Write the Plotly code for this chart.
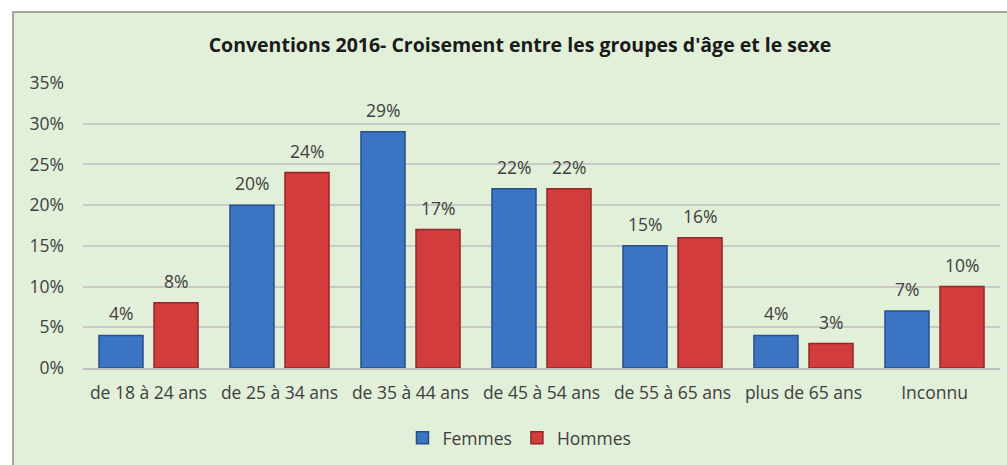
import plotly.graph_objects as go

categories = ["de 18 à 24 ans", "de 25 à 34 ans", "de 35 à 44 ans", "de 45 à 54 ans",
              "de 55 à 65 ans", "plus de 65 ans", "Inconnu"]
femmes = [4, 20, 29, 22, 15, 4, 7]
hommes = [8, 24, 17, 22, 16, 3, 10]
tick_vals = [0, 5, 10, 15, 20, 25, 30, 35]
tick_text = [f"{v}%" for v in tick_vals]

FONT = "'Open Sans', Lato, sans-serif"
TXT = "#404040"

fig = go.Figure()
fig.add_trace(go.Bar(
    name="Femmes", x=categories, y=femmes,
    marker=dict(color="#3B74C2", line=dict(color="#27508A", width=1.5)),
))
fig.add_trace(go.Bar(
    name="Hommes", x=categories, y=hommes,
    marker=dict(color="#D23C3C", line=dict(color="#922727", width=1.5)),
))

# value labels above each bar (offset to the bar's slot in the group)
for vals, shift in ((femmes, -27.5), (hommes, 27.5)):
    for cat, v in zip(categories, vals):
        fig.add_annotation(x=cat, y=v, xref="x", yref="y", text=f"{v}%",
                           showarrow=False, xshift=shift, yshift=22, yanchor="middle",
                           font=dict(size=17.5, color=TXT, family=FONT))

# light green chart frame
fig.add_shape(type="rect", xref="paper", yref="paper",
              x0=-70 / 917, x1=1.01, y0=-0.45, y1=1 + 71 / 285,
              fillcolor="#E2EFD9", line=dict(color="#8C8C8C", width=1.5),
              layer="below")

fig.update_layout(
    width=1007, height=465,
    margin=dict(l=83, r=7, t=83, b=97),
    paper_bgcolor="white", plot_bgcolor="white",
    barmode="group", bargap=0.16, bargroupgap=0.2,
    title=dict(text="<b>Conventions 2016- Croisement entre les groupes d'âge et le sexe</b>",
               x=(520 - 83) / 917, xref="paper", xanchor="center",
               y=1 - 45 / 465, yref="container", yanchor="middle",
               font=dict(size=19.5, color="#1a1a1a", family=FONT)),
    font=dict(family=FONT, color=TXT, size=17),
    showlegend=True,
    legend=dict(orientation="h", x=0.476, xanchor="center", y=-0.245, yanchor="middle",
                font=dict(size=17.5, color=TXT, family=FONT), bgcolor="rgba(0,0,0,0)",
                itemwidth=30, traceorder="normal"),
    xaxis=dict(showgrid=False, showline=True, linecolor="#BFBFBF", linewidth=1.5,
               ticks="", tickfont=dict(size=17.5, color=TXT, family=FONT), ticklabelstandoff=8),
    yaxis=dict(range=[0, 35], tickvals=tick_vals, ticktext=tick_text,
               showgrid=True, gridcolor="#C9C9C9", gridwidth=1.5, zeroline=False,
               showline=False, ticks="", ticklabelstandoff=18,
               tickfont=dict(size=17.5, color=TXT, family=FONT)),
)

fig.write_html("out.html")
